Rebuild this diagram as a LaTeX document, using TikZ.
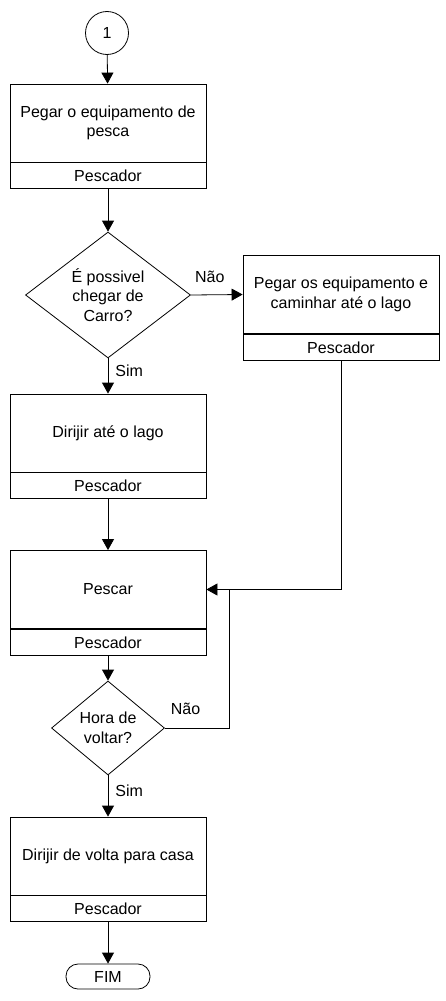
\documentclass[tikz,border=0pt]{standalone}
\usepackage{fontspec}
\setmainfont{Liberation Sans}
\usetikzlibrary{shapes.geometric,arrows.meta}

\begin{document}
\begin{tikzpicture}[
		x=1pt, y=1pt,
		font=\fontsize{16}{19.5}\selectfont,
		tarefa/.style={draw, line width=0.8pt, minimum width=196pt, minimum height=78pt, inner sep=0pt, align=center},
		papel/.style={draw, line width=0.8pt, minimum width=196pt, minimum height=26pt, inner sep=0pt, anchor=north},
		decisao/.style={draw, diamond, line width=0.8pt, inner sep=0pt, align=center},
		conector/.style={draw, circle, line width=0.8pt, minimum size=43pt, inner sep=0pt},
		terminal/.style={draw, rounded corners=12pt, line width=0.8pt, minimum width=84pt, minimum height=25pt, inner sep=0pt},
		linha/.style={draw, line width=0.8pt},
		fluxo/.style={linha, -{Triangle[length=11pt, width=12pt]}},
		rotulo/.style={inner sep=0pt}
	]
		\useasboundingbox (0,0) rectangle (445,-1001);

		\path (107,-33) node[conector] (c1) {1};
		\path (c1) ++(1, -90) node[tarefa] (pegar) {Pegar o equipamento de\\pesca};
		\path (pegar.south) node[papel] (pegar-p) {Pescador};
		\path (pegar) ++(0, -172) node[decisao, minimum width=165pt, minimum height=118pt] (chegar) {É possivel\\chegar de\\Carro?};
		\path (chegar) ++(233, 0.5) node[tarefa] (caminhar) {Pegar os equipamento e\\caminhar até o lago};
		\path (caminhar.south) node[papel] (caminhar-p) {Pescador};
		\path (chegar) ++(0, -138) node[tarefa] (dirigir) {Dirijir até o lago};
		\path (dirigir.south) node[papel] (dirigir-p) {Pescador};
		\path (dirigir) ++(0, -156.5) node[tarefa] (pescar) {Pescar};
		\path (pescar.south) node[papel] (pescar-p) {Pescador};
		\path (pescar) ++(0, -138.5) node[decisao, minimum width=113pt, minimum height=94pt] (hora) {Hora de\\voltar?};
		\path (hora) ++(0, -128) node[tarefa] (volta) {Dirijir de volta para casa};
		\path (volta.south) node[papel] (volta-p) {Pescador};
		\path (volta) ++(0, -120.5) node[terminal] (fim) {FIM};
		\path (pescar.east) ++(23, 0) coordinate (juncao);

		\path [fluxo] (c1) -- (pegar);
		\path [fluxo] (pegar-p) -- (chegar);
		\path [fluxo] (chegar.east) -- node[rotulo, pos=0.365, above=12pt] {Não} (caminhar.west);
		\path [fluxo] (chegar.south) -- node[rotulo, pos=0.34, right=7pt] {Sim} (dirigir.north);
		\path [fluxo] (dirigir-p) -- (pescar);
		\path [fluxo] (caminhar-p.south) |- (pescar.east);
		\path [fluxo] (pescar-p) -- (hora);
		\path [linha] (hora.east) -| node[rotulo, pos=0.16, above=13pt] {Não} (juncao);
		\path [fluxo] (hora.south) -- node[rotulo, pos=0.38, right=7pt] {Sim} (volta.north);
		\path [fluxo] (volta-p) -- (fim);
	\end{tikzpicture}
\end{document}
